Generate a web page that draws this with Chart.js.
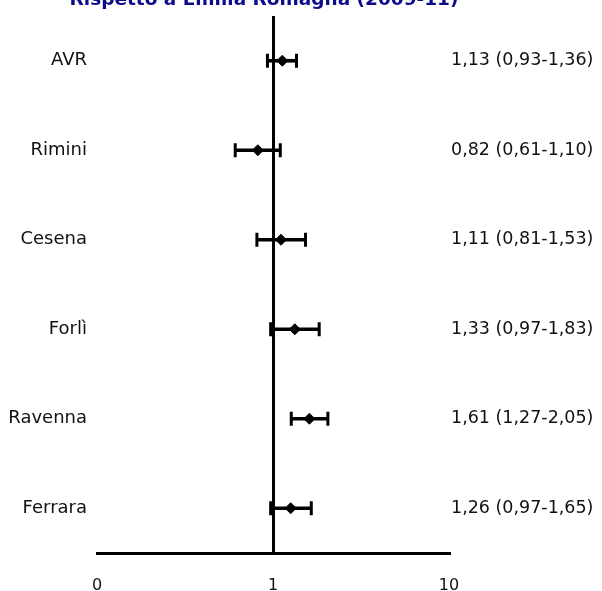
<!DOCTYPE html>
<html>
<head>
<meta charset="utf-8">
<script src="https://cdn.jsdelivr.net/npm/chart.js@4/dist/chart.umd.min.js"></script>
<style>
	body { margin: 0; background: #fff; }
	canvas { display: block; }
</style>
</head>
<body>
<canvas id="forest" width="602" height="591"></canvas>
<script>
const TITLE = 'Rispetto a Emilia Romagna (2009-11)';
const categories = ['AVR', 'Rimini', 'Cesena', 'Forlì', 'Ravenna', 'Ferrara'];
const estimates = [1.13, 0.82, 1.11, 1.33, 1.61, 1.26];
const lower = [0.93, 0.61, 0.81, 0.97, 1.27, 0.97];
const upper = [1.36, 1.10, 1.53, 1.83, 2.05, 1.65];
const xTicks = [0.1, 1, 10];
const xTickLabels = ['0', '1', '10'];

const fmt = n => n.toFixed(2).replace('.', ',');
const ciLabels = estimates.map((e, i) => `${fmt(e)} (${fmt(lower[i])}-${fmt(upper[i])})`);

//title sits half off the top of the picture
const titlePlugin = {
	id: 'cutTitle',
	afterDraw: (chart) => {
		let ctx = chart.ctx;
		ctx.save();
		ctx.font = 'bold 18.5px "DejaVu Sans"';
		ctx.fillStyle = '#0c0c8a';
		ctx.textAlign = 'center';
		ctx.textBaseline = 'alphabetic';
		ctx.fillText(TITLE, 264, 5);
		ctx.restore();
	}
};

//fixed axis boxes, no extra room for half label heights
const fitY = w => axis => {
	axis.width = w;
	axis.paddingTop = 0;
	axis.paddingBottom = 0;
};

const caps = [];
categories.forEach((c, i) => {
	caps.push({x: lower[i], y: c});
	caps.push({x: upper[i], y: c});
});

new Chart(document.querySelector('#forest').getContext('2d'), {
	type: 'bar',
	data: {
		labels: categories,
		datasets: [
			{
				type: 'scatter',
				data: categories.map((c, i) => ({x: estimates[i], y: c})),
				pointStyle: 'rectRot',
				radius: 5.5,
				backgroundColor: '#000',
				borderColor: '#000',
				borderWidth: 1
			},
			{
				type: 'scatter',
				data: caps,
				pointStyle: 'line',
				rotation: 90,
				radius: 7,
				borderColor: '#000',
				borderWidth: 3
			},
			{
				type: 'bar',
				indexAxis: 'y',
				data: categories.map((c, i) => [lower[i], upper[i]]),
				backgroundColor: '#000',
				barThickness: 3,
				borderWidth: 0
			}
		]
	},
	options: {
		responsive: false,
		animation: false,
		events: [],
		layout: {padding: {top: 16}},
		plugins: {legend: {display: false}, tooltip: {enabled: false}},
		scales: {
			x: {
				type: 'logarithmic',
				position: 'bottom',
				min: 0.1,
				max: 10,
				afterBuildTicks: axis => { axis.ticks = xTicks.map(v => ({value: v})); },
				afterFit: axis => { axis.height = 38; },
				grid: {
					offset: false,
					drawTicks: false,
					color: ctx => ctx.tick && ctx.tick.value === 1 ? '#000' : 'rgba(0,0,0,0)',
					lineWidth: 3
				},
				border: {display: true, color: '#000', width: 3},
				ticks: {
					padding: 23,
					color: '#111',
					font: {family: 'DejaVu Sans', size: 16},
					maxRotation: 0,
					callback: (v, i) => xTickLabels[i]
				}
			},
			y: {
				type: 'category',
				position: 'left',
				offset: true,
				afterFit: fitY(97),
				grid: {display: false, drawTicks: false},
				border: {display: false},
				ticks: {padding: 10, color: '#111', font: {family: 'DejaVu Sans', size: 18}}
			},
			y2: {
				type: 'category',
				position: 'right',
				labels: ciLabels,
				offset: true,
				afterFit: fitY(153),
				grid: {display: false, drawTicks: false},
				border: {display: false},
				ticks: {padding: 2, color: '#111', font: {family: 'DejaVu Sans', size: 17.5}}
			}
		}
	},
	plugins: [titlePlugin]
});
</script>
</body>
</html>
